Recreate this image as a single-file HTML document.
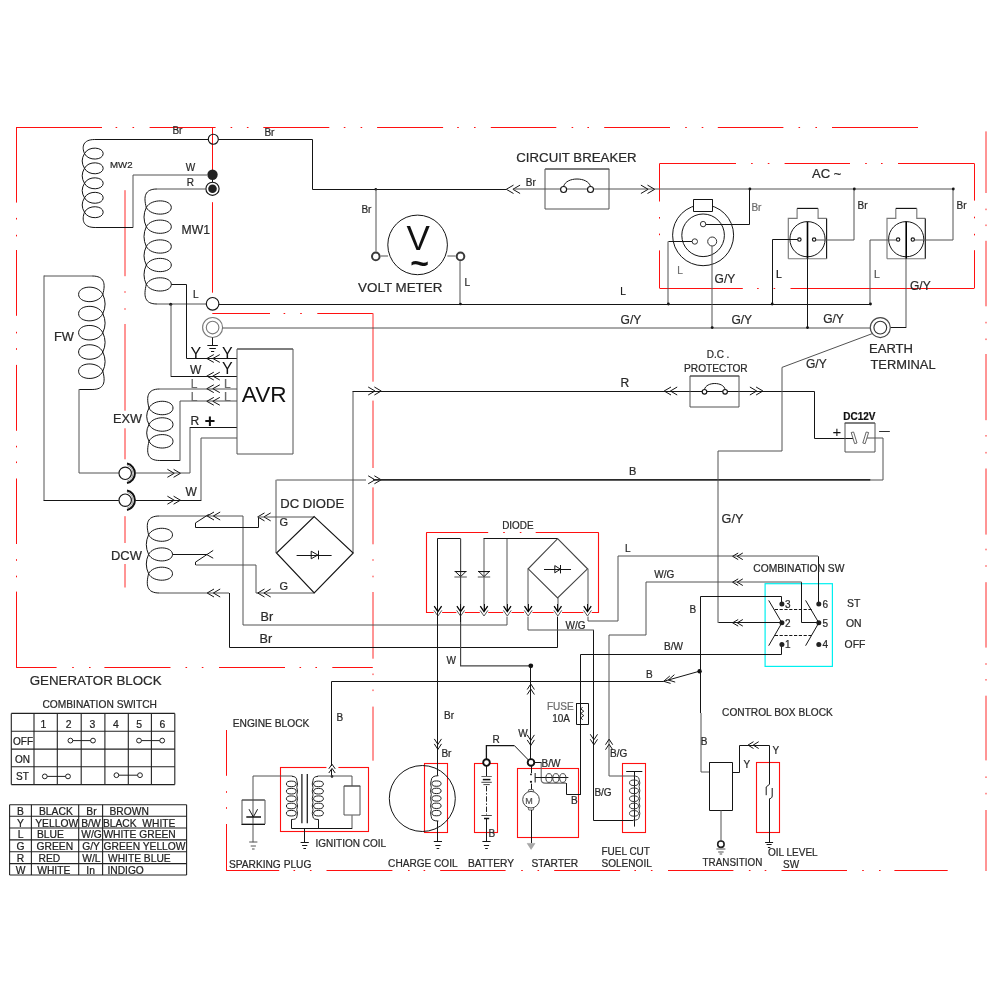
<!DOCTYPE html>
<html lang="en"><head><meta charset="utf-8"><title>Generator wiring diagram</title>
<style>
html,body{margin:0;padding:0;background:#fff}
body{width:994px;height:994px;overflow:hidden}
svg{display:block;will-change:transform}
svg text{font-family:"Liberation Sans",sans-serif}
</style></head><body>
<svg width="994" height="994" viewBox="0 0 994 994" stroke-linecap="butt" stroke-linejoin="miter">
<rect x="0" y="0" width="994" height="994" fill="#fff"/>
<polyline points="16.3,127.5 102,127.5" stroke="#ff1010" stroke-width="1" fill="none" />
<polyline points="149.6,127.5 215.6,127.5" stroke="#ff1010" stroke-width="1" fill="none" />
<polyline points="263.3,127.5 329.3,127.5" stroke="#ff1010" stroke-width="1" fill="none" />
<polyline points="377.1,127.5 443.1,127.5" stroke="#ff1010" stroke-width="1" fill="none" />
<polyline points="490.8,127.5 556.3,127.5" stroke="#ff1010" stroke-width="1" fill="none" />
<polyline points="604.2,127.5 670,127.5" stroke="#ff1010" stroke-width="1" fill="none" />
<polyline points="717.8,127.5 783.4,127.5" stroke="#ff1010" stroke-width="1" fill="none" />
<polyline points="832,127.5 918,127.5" stroke="#ff1010" stroke-width="1" fill="none" />
<polyline points="115.6,127.5 117.2,127.5" stroke="#ff1010" stroke-width="1" fill="none" />
<polyline points="132.5,127.5 134.1,127.5" stroke="#ff1010" stroke-width="1" fill="none" />
<polyline points="230.6,127.5 232.2,127.5" stroke="#ff1010" stroke-width="1" fill="none" />
<polyline points="246.9,127.5 248.5,127.5" stroke="#ff1010" stroke-width="1" fill="none" />
<polyline points="343.8,127.5 345.4,127.5" stroke="#ff1010" stroke-width="1" fill="none" />
<polyline points="360.6,127.5 362.2,127.5" stroke="#ff1010" stroke-width="1" fill="none" />
<polyline points="457.2,127.5 458.8,127.5" stroke="#ff1010" stroke-width="1" fill="none" />
<polyline points="474,127.5 475.6,127.5" stroke="#ff1010" stroke-width="1" fill="none" />
<polyline points="571.6,127.5 573.2,127.5" stroke="#ff1010" stroke-width="1" fill="none" />
<polyline points="587.4,127.5 589,127.5" stroke="#ff1010" stroke-width="1" fill="none" />
<polyline points="685.2,127.5 686.8,127.5" stroke="#ff1010" stroke-width="1" fill="none" />
<polyline points="701.7,127.5 703.3,127.5" stroke="#ff1010" stroke-width="1" fill="none" />
<polyline points="798.5,127.5 800.1,127.5" stroke="#ff1010" stroke-width="1" fill="none" />
<polyline points="815.4,127.5 817,127.5" stroke="#ff1010" stroke-width="1" fill="none" />
<polyline points="16.5,127 16.5,202.6" stroke="#ff1010" stroke-width="1" fill="none" />
<polyline points="16.5,250 16.5,315.8" stroke="#ff1010" stroke-width="1" fill="none" />
<polyline points="16.5,364.9 16.5,430.8" stroke="#ff1010" stroke-width="1" fill="none" />
<polyline points="16.5,478.5 16.5,544" stroke="#ff1010" stroke-width="1" fill="none" />
<polyline points="16.5,591.6 16.5,667.8" stroke="#ff1010" stroke-width="1" fill="none" />
<polyline points="16.5,217.9 16.5,219.5" stroke="#ff1010" stroke-width="1" fill="none" />
<polyline points="16.5,234.8 16.5,236.4" stroke="#ff1010" stroke-width="1" fill="none" />
<polyline points="16.5,331.8 16.5,333.4" stroke="#ff1010" stroke-width="1" fill="none" />
<polyline points="16.5,348.2 16.5,349.8" stroke="#ff1010" stroke-width="1" fill="none" />
<polyline points="16.5,445.8 16.5,447.4" stroke="#ff1010" stroke-width="1" fill="none" />
<polyline points="16.5,461.5 16.5,463.1" stroke="#ff1010" stroke-width="1" fill="none" />
<polyline points="16.5,559.2 16.5,560.8" stroke="#ff1010" stroke-width="1" fill="none" />
<polyline points="16.5,575.7 16.5,577.3" stroke="#ff1010" stroke-width="1" fill="none" />
<polyline points="16.3,667.5 56.6,667.5" stroke="#ff1010" stroke-width="1" fill="none" />
<polyline points="104.4,667.5 170.5,667.5" stroke="#ff1010" stroke-width="1" fill="none" />
<polyline points="219,667.5 285,667.5" stroke="#ff1010" stroke-width="1" fill="none" />
<polyline points="332.3,667.5 372.8,667.5" stroke="#ff1010" stroke-width="1" fill="none" />
<polyline points="72.2,667.5 73.8,667.5" stroke="#ff1010" stroke-width="1" fill="none" />
<polyline points="89,667.5 90.6,667.5" stroke="#ff1010" stroke-width="1" fill="none" />
<polyline points="185.5,667.5 187.1,667.5" stroke="#ff1010" stroke-width="1" fill="none" />
<polyline points="201.8,667.5 203.4,667.5" stroke="#ff1010" stroke-width="1" fill="none" />
<polyline points="299.5,667.5 301.1,667.5" stroke="#ff1010" stroke-width="1" fill="none" />
<polyline points="315.4,667.5 317,667.5" stroke="#ff1010" stroke-width="1" fill="none" />
<polyline points="373,313.3 373,381.7" stroke="#ff2a2a" stroke-width="1" fill="none" />
<polyline points="373,400.6 373,468" stroke="#ff2a2a" stroke-width="1" fill="none" />
<polyline points="373,487.4 373,544.3" stroke="#ff2a2a" stroke-width="1" fill="none" />
<polyline points="373,592 373,658.7" stroke="#ff2a2a" stroke-width="1" fill="none" />
<polyline points="373,706.6 373,760.7" stroke="#ff2a2a" stroke-width="1" fill="none" />
<polyline points="373,559.2 373,560.8" stroke="#ff2a2a" stroke-width="1" fill="none" />
<polyline points="373,575.7 373,577.3" stroke="#ff2a2a" stroke-width="1" fill="none" />
<polyline points="373,673.5 373,675.1" stroke="#ff2a2a" stroke-width="1" fill="none" />
<polyline points="373,689.5 373,691.1" stroke="#ff2a2a" stroke-width="1" fill="none" />
<polyline points="212.3,313.5 270,313.5" stroke="#ff1010" stroke-width="1" fill="none" />
<polyline points="317.3,313.5 372.8,313.5" stroke="#ff1010" stroke-width="1" fill="none" />
<polyline points="283.6,313.5 285.2,313.5" stroke="#ff1010" stroke-width="1" fill="none" />
<polyline points="300.2,313.5 301.8,313.5" stroke="#ff1010" stroke-width="1" fill="none" />
<polyline points="212.5,127 212.5,171" stroke="#ff1010" stroke-width="1" fill="none" />
<polyline points="212.5,202.2 212.5,292.7" stroke="#ff1010" stroke-width="1" fill="none" />
<polyline points="125,190.2 125,276.2" stroke="#ff2a2a" stroke-width="1" fill="none" />
<polyline points="125,324 125,410.7" stroke="#ff2a2a" stroke-width="1" fill="none" />
<polyline points="125,428.3 125,459.3" stroke="#ff2a2a" stroke-width="1" fill="none" />
<polyline points="125,516.2 125,543" stroke="#ff2a2a" stroke-width="1" fill="none" />
<polyline points="125,564 125,587.5" stroke="#ff2a2a" stroke-width="1" fill="none" />
<polyline points="125,291.2 125,292.8" stroke="#ff2a2a" stroke-width="1" fill="none" />
<polyline points="125,308.2 125,309.8" stroke="#ff2a2a" stroke-width="1" fill="none" />
<polyline points="986,131.4 986,193" stroke="#ff2a2a" stroke-width="1" fill="none" />
<polyline points="986,240.8 986,306.3" stroke="#ff2a2a" stroke-width="1" fill="none" />
<polyline points="986,354 986,420.2" stroke="#ff2a2a" stroke-width="1" fill="none" />
<polyline points="986,468.5 986,534.6" stroke="#ff2a2a" stroke-width="1" fill="none" />
<polyline points="986,582.2 986,647.6" stroke="#ff2a2a" stroke-width="1" fill="none" />
<polyline points="986,695.7 986,760.4" stroke="#ff2a2a" stroke-width="1" fill="none" />
<polyline points="986,810 986,871" stroke="#ff2a2a" stroke-width="1" fill="none" />
<polyline points="986,208.6 986,210.2" stroke="#ff2a2a" stroke-width="1" fill="none" />
<polyline points="986,224.5 986,226.1" stroke="#ff2a2a" stroke-width="1" fill="none" />
<polyline points="986,321.8 986,323.4" stroke="#ff2a2a" stroke-width="1" fill="none" />
<polyline points="986,338.5 986,340.1" stroke="#ff2a2a" stroke-width="1" fill="none" />
<polyline points="986,435 986,436.6" stroke="#ff2a2a" stroke-width="1" fill="none" />
<polyline points="986,451.9 986,453.5" stroke="#ff2a2a" stroke-width="1" fill="none" />
<polyline points="986,548.7 986,550.3" stroke="#ff2a2a" stroke-width="1" fill="none" />
<polyline points="986,565.2 986,566.8" stroke="#ff2a2a" stroke-width="1" fill="none" />
<polyline points="986,663.2 986,664.8" stroke="#ff2a2a" stroke-width="1" fill="none" />
<polyline points="986,679 986,680.6" stroke="#ff2a2a" stroke-width="1" fill="none" />
<polyline points="986,776.4 986,778" stroke="#ff2a2a" stroke-width="1" fill="none" />
<polyline points="986,792.8 986,794.4" stroke="#ff2a2a" stroke-width="1" fill="none" />
<polyline points="226.4,870.5 279.2,870.5" stroke="#ff1010" stroke-width="1" fill="none" />
<polyline points="326.5,870.5 392.4,870.5" stroke="#ff1010" stroke-width="1" fill="none" />
<polyline points="440.2,870.5 505.6,870.5" stroke="#ff1010" stroke-width="1" fill="none" />
<polyline points="554.2,870.5 620.1,870.5" stroke="#ff1010" stroke-width="1" fill="none" />
<polyline points="668,870.5 733.4,870.5" stroke="#ff1010" stroke-width="1" fill="none" />
<polyline points="781.5,870.5 847,870.5" stroke="#ff1010" stroke-width="1" fill="none" />
<polyline points="894.4,870.5 947.7,870.5" stroke="#ff1010" stroke-width="1" fill="none" />
<polyline points="293.5,870.5 295.1,870.5" stroke="#ff1010" stroke-width="1" fill="none" />
<polyline points="309.9,870.5 311.5,870.5" stroke="#ff1010" stroke-width="1" fill="none" />
<polyline points="408,870.5 409.6,870.5" stroke="#ff1010" stroke-width="1" fill="none" />
<polyline points="423.6,870.5 425.2,870.5" stroke="#ff1010" stroke-width="1" fill="none" />
<polyline points="521.2,870.5 522.8,870.5" stroke="#ff1010" stroke-width="1" fill="none" />
<polyline points="537.5,870.5 539.1,870.5" stroke="#ff1010" stroke-width="1" fill="none" />
<polyline points="634.4,870.5 636,870.5" stroke="#ff1010" stroke-width="1" fill="none" />
<polyline points="650.9,870.5 652.5,870.5" stroke="#ff1010" stroke-width="1" fill="none" />
<polyline points="748.9,870.5 750.5,870.5" stroke="#ff1010" stroke-width="1" fill="none" />
<polyline points="764.7,870.5 766.3,870.5" stroke="#ff1010" stroke-width="1" fill="none" />
<polyline points="862.2,870.5 863.8,870.5" stroke="#ff1010" stroke-width="1" fill="none" />
<polyline points="879,870.5 880.6,870.5" stroke="#ff1010" stroke-width="1" fill="none" />
<polyline points="226.5,730 226.5,775.8" stroke="#ff1010" stroke-width="1" fill="none" />
<polyline points="226.5,824 226.5,870.8" stroke="#ff1010" stroke-width="1" fill="none" />
<polyline points="226.5,791.2 226.5,792.8" stroke="#ff1010" stroke-width="1" fill="none" />
<polyline points="226.5,807.2 226.5,808.8" stroke="#ff1010" stroke-width="1" fill="none" />
<polyline points="659.8,163.5 736,163.5" stroke="#ff1010" stroke-width="1" fill="none" />
<polyline points="784.6,163.5 850,163.5" stroke="#ff1010" stroke-width="1" fill="none" />
<polyline points="898,163.5 974.1,163.5" stroke="#ff1010" stroke-width="1" fill="none" />
<polyline points="751.1,163.5 752.7,163.5" stroke="#ff1010" stroke-width="1" fill="none" />
<polyline points="767.8,163.5 769.4,163.5" stroke="#ff1010" stroke-width="1" fill="none" />
<polyline points="865.2,163.5 866.8,163.5" stroke="#ff1010" stroke-width="1" fill="none" />
<polyline points="881,163.5 882.6,163.5" stroke="#ff1010" stroke-width="1" fill="none" />
<polyline points="974.5,163.4 974.5,200.6" stroke="#ff1010" stroke-width="1" fill="none" />
<polyline points="974.5,250.2 974.5,288.4" stroke="#ff1010" stroke-width="1" fill="none" />
<polyline points="974.5,216.7 974.5,218.3" stroke="#ff1010" stroke-width="1" fill="none" />
<polyline points="974.5,233.8 974.5,235.4" stroke="#ff1010" stroke-width="1" fill="none" />
<polyline points="659.8,288.5 742.8,288.5" stroke="#ff1010" stroke-width="1" fill="none" />
<polyline points="790.5,288.5 974.1,288.5" stroke="#ff1010" stroke-width="1" fill="none" />
<polyline points="757.1,288.5 758.7,288.5" stroke="#ff1010" stroke-width="1" fill="none" />
<polyline points="773.6,288.5 775.2,288.5" stroke="#ff1010" stroke-width="1" fill="none" />
<polyline points="659.5,163.4 659.5,201.5" stroke="#ff1010" stroke-width="1" fill="none" />
<polyline points="659.5,250.4 659.5,288.4" stroke="#ff1010" stroke-width="1" fill="none" />
<polyline points="659.5,217 659.5,218.6" stroke="#ff1010" stroke-width="1" fill="none" />
<polyline points="659.5,233.6 659.5,235.2" stroke="#ff1010" stroke-width="1" fill="none" />
<polyline points="426.3,532.5 488.2,532.5" stroke="#ff1010" stroke-width="1" fill="none" />
<polyline points="535.7,532.5 598.7,532.5" stroke="#ff1010" stroke-width="1" fill="none" />
<polyline points="503.2,532.5 504.8,532.5" stroke="#ff1010" stroke-width="1" fill="none" />
<polyline points="519.8,532.5 521.4,532.5" stroke="#ff1010" stroke-width="1" fill="none" />
<polyline points="426.5,532.5 426.5,612.5 598.5,612.5 598.5,532.5" stroke="#ff1010" stroke-width="1.1" fill="none" />
<rect x="280.5" y="767.5" width="88" height="64" stroke="#ff1010" stroke-width="1.1" fill="none"/>
<rect x="424.5" y="763.5" width="23" height="69" stroke="#ff1010" stroke-width="1.1" fill="none"/>
<rect x="474.5" y="763.5" width="23" height="69" stroke="#ff1010" stroke-width="1.1" fill="none"/>
<rect x="517.5" y="768.5" width="61" height="69" stroke="#ff1010" stroke-width="1.1" fill="none"/>
<rect x="622.5" y="763.5" width="23" height="69" stroke="#ff1010" stroke-width="1.1" fill="none"/>
<rect x="756.5" y="762.5" width="23" height="70" stroke="#ff1010" stroke-width="1.1" fill="none"/>
<rect x="765.1" y="583.7" width="67.3" height="82.7" stroke="#00f0f0" stroke-width="1.2" fill="none"/>
<path d="M84.5,153.6 C88.24,145.8 103.2,146.84 103.2,153.6 C103.2,160.36 88.24,161.4 84.5,153.6" stroke="#151515" stroke-width="1" fill="none" />
<path d="M84.5,168.3 C88.24,160.5 103.2,161.54 103.2,168.3 C103.2,175.06 88.24,176.1 84.5,168.3" stroke="#151515" stroke-width="1" fill="none" />
<path d="M84.5,183.3 C88.24,175.5 103.2,176.54 103.2,183.3 C103.2,190.06 88.24,191.1 84.5,183.3" stroke="#151515" stroke-width="1" fill="none" />
<path d="M84.5,197.8 C88.24,190 103.2,191.04 103.2,197.8 C103.2,204.56 88.24,205.6 84.5,197.8" stroke="#151515" stroke-width="1" fill="none" />
<path d="M84.5,212.2 C88.24,204.4 103.2,205.44 103.2,212.2 C103.2,218.96 88.24,220 84.5,212.2" stroke="#151515" stroke-width="1" fill="none" />
<polyline points="208.3,139.5 94.78,139.5" stroke="#151515" stroke-width="1" fill="none" />
<polyline points="95.2,227.5 133.2,227.5" stroke="#151515" stroke-width="1" fill="none" />
<path d="M94.78,139.5 C82.8,139.5 81.6,146.9 84.5,153.6 Q79.9,160.95 84.5,168.3 Q79.9,175.8 84.5,183.3 Q79.9,190.55 84.5,197.8 Q79.9,205 84.5,212.2 C81.6,219.8 82.8,227.5 95.2,227.5" stroke="#151515" stroke-width="1" fill="none" />
<polyline points="133,227.2 133,175 207,175" stroke="#525252" stroke-width="1" fill="none" />
<circle cx="213.3" cy="139.2" r="5" stroke="#151515" stroke-width="1.15" fill="none"/>
<polyline points="218.3,139.5 312.5,139.5 312.5,189.5 506.3,189.5" stroke="#151515" stroke-width="1" fill="none" />
<polyline points="212.5,174.8 212.5,188.8" stroke="#151515" stroke-width="1" fill="none" />
<circle cx="212.5" cy="174.8" r="5.2" fill="#222"/>
<circle cx="212.5" cy="188.8" r="6.6" stroke="#151515" stroke-width="1.15" fill="#fff"/>
<circle cx="212.5" cy="188.8" r="4.3" fill="#222"/>
<path d="M146.3,207.5 C151.3,198.05 171.3,199.31 171.3,207.5 C171.3,215.69 151.3,216.95 146.3,207.5" stroke="#151515" stroke-width="1" fill="none" />
<path d="M146.3,226.7 C151.3,217.25 171.3,218.51 171.3,226.7 C171.3,234.89 151.3,236.15 146.3,226.7" stroke="#151515" stroke-width="1" fill="none" />
<path d="M146.3,246.5 C151.3,237.05 171.3,238.31 171.3,246.5 C171.3,254.69 151.3,255.95 146.3,246.5" stroke="#151515" stroke-width="1" fill="none" />
<path d="M146.3,265 C151.3,255.55 171.3,256.81 171.3,265 C171.3,273.19 151.3,274.45 146.3,265" stroke="#151515" stroke-width="1" fill="none" />
<path d="M146.3,284.4 C151.3,274.95 171.3,276.21 171.3,284.4 C171.3,292.59 151.3,293.85 146.3,284.4" stroke="#151515" stroke-width="1" fill="none" />
<polyline points="206,189 157,189" stroke="#525252" stroke-width="1" fill="none" />
<polyline points="157,304 206.3,304" stroke="#525252" stroke-width="1" fill="none" />
<path d="M157,189 C144.6,189 143.4,196.7 146.3,207.5 Q141.7,217.1 146.3,226.7 Q141.7,236.6 146.3,246.5 Q141.7,255.75 146.3,265 Q141.7,274.7 146.3,284.4 C143.4,296.3 144.6,304 157,304" stroke="#151515" stroke-width="1" fill="none" />
<circle cx="212.6" cy="303.8" r="6.3" stroke="#151515" stroke-width="1.15" fill="#fff"/>
<polyline points="171.3,284.5 186.5,284.5 186.5,358.5 237,358.5" stroke="#151515" stroke-width="1" fill="none" />
<circle cx="170.7" cy="304.2" r="1.5" fill="#151515"/>
<polyline points="171,304.2 171,376.1" stroke="#525252" stroke-width="1" fill="none" />
<polyline points="170.7,376.5 237,376.5" stroke="#151515" stroke-width="1" fill="none" />
<polyline points="218.9,304.5 870.5,304.5" stroke="#151515" stroke-width="1" fill="none" />
<circle cx="212.6" cy="327.5" r="10" stroke="#7a7a7a" stroke-width="1.15" fill="#fff"/>
<circle cx="212.6" cy="327.5" r="6.3" stroke="#7a7a7a" stroke-width="1.15" fill="#fff"/>
<polyline points="222.6,328 870.3,328" stroke="#525252" stroke-width="1" fill="none" />
<polyline points="212.5,337.5 212.5,345" stroke="#151515" stroke-width="1" fill="none" />
<polyline points="207.35,345.5 217.85,345.5" stroke="#151515" stroke-width="1" fill="none" />
<polyline points="209.35,348.5 215.85,348.5" stroke="#151515" stroke-width="1" fill="none" />
<polyline points="211,351.5 214.2,351.5" stroke="#151515" stroke-width="1" fill="none" />
<path d="M102.8,294.4 C97.96,284.05 78.6,285.43 78.6,294.4 C78.6,303.37 97.96,304.75 102.8,294.4" stroke="#151515" stroke-width="1" fill="none" />
<path d="M102.8,313.6 C97.96,303.25 78.6,304.63 78.6,313.6 C78.6,322.57 97.96,323.95 102.8,313.6" stroke="#151515" stroke-width="1" fill="none" />
<path d="M102.8,332.7 C97.96,322.35 78.6,323.73 78.6,332.7 C78.6,341.67 97.96,343.05 102.8,332.7" stroke="#151515" stroke-width="1" fill="none" />
<path d="M102.8,352 C97.96,341.65 78.6,343.03 78.6,352 C78.6,360.97 97.96,362.35 102.8,352" stroke="#151515" stroke-width="1" fill="none" />
<path d="M102.8,371.2 C97.96,360.85 78.6,362.23 78.6,371.2 C78.6,380.17 97.96,381.55 102.8,371.2" stroke="#151515" stroke-width="1" fill="none" />
<polyline points="44,276 92.1,276" stroke="#525252" stroke-width="1" fill="none" />
<polyline points="92.1,389.5 79.2,389.5" stroke="#151515" stroke-width="1" fill="none" />
<path d="M92.1,276 C104.5,276 105.7,283.7 102.8,294.4 Q107.4,304 102.8,313.6 Q107.4,323.15 102.8,332.7 Q107.4,342.35 102.8,352 Q107.4,361.6 102.8,371.2 C105.7,381.8 104.5,389.5 92.1,389.5" stroke="#151515" stroke-width="1" fill="none" />
<polyline points="44,275.5 44,500.2" stroke="#525252" stroke-width="1" fill="none" />
<polyline points="43.5,500.5 118.8,500.5" stroke="#151515" stroke-width="1" fill="none" />
<polyline points="79,389.3 79,473 118.8,473" stroke="#525252" stroke-width="1" fill="none" />
<circle cx="125.2" cy="473.3" r="6.2" stroke="#151515" stroke-width="1.15" fill="#fff"/>
<path d="M127,463.6 A9.9,9.9 0 0 1 127,483" stroke="#111" stroke-width="2" fill="none" />
<path d="M127.2,465.5 A8.2,8.2 0 0 1 127.2,481.1" stroke="#999" stroke-width="1" fill="none" />
<circle cx="125.2" cy="500.2" r="6.2" stroke="#151515" stroke-width="1.15" fill="#fff"/>
<path d="M127,490.5 A9.9,9.9 0 0 1 127,509.9" stroke="#111" stroke-width="2" fill="none" />
<path d="M127.2,492.4 A8.2,8.2 0 0 1 127.2,508" stroke="#999" stroke-width="1" fill="none" />
<polyline points="135.5,473 190,473 190,427" stroke="#525252" stroke-width="1" fill="none" />
<polyline points="190,427.5 237,427.5" stroke="#151515" stroke-width="1" fill="none" />
<polyline points="173.6,469.3 180.4,473.3 173.6,477.3" stroke="#151515" stroke-width="1" fill="none" />
<polyline points="167.4,469.3 174.2,473.3 167.4,477.3" stroke="#151515" stroke-width="1" fill="none" />
<polyline points="135.5,500.5 201.4,500.5" stroke="#151515" stroke-width="1" fill="none" />
<polyline points="201,500.2 201,438 237,438" stroke="#525252" stroke-width="1" fill="none" />
<polyline points="173.6,496.2 180.4,500.2 173.6,504.2" stroke="#151515" stroke-width="1" fill="none" />
<polyline points="167.4,496.2 174.2,500.2 167.4,504.2" stroke="#151515" stroke-width="1" fill="none" />
<path d="M149,408 C153.8,398.4 173,399.68 173,408 C173,416.32 153.8,417.6 149,408" stroke="#151515" stroke-width="1" fill="none" />
<path d="M149,424.5 C153.8,414.9 173,416.18 173,424.5 C173,432.82 153.8,434.1 149,424.5" stroke="#151515" stroke-width="1" fill="none" />
<path d="M149,441.3 C153.8,431.7 173,432.98 173,441.3 C173,449.62 153.8,450.9 149,441.3" stroke="#151515" stroke-width="1" fill="none" />
<polyline points="237,389 159.7,389" stroke="#525252" stroke-width="1" fill="none" />
<polyline points="159.7,460.5 180.2,460.5" stroke="#151515" stroke-width="1" fill="none" />
<path d="M159.7,389 C147.3,389 146.1,396.7 149,408 Q144.4,416.25 149,424.5 Q144.4,432.9 149,441.3 C146.1,452.8 147.3,460.5 159.7,460.5" stroke="#151515" stroke-width="1" fill="none" />
<polyline points="180,460.4 180,401 237,401" stroke="#525252" stroke-width="1" fill="none" />
<polyline points="237.2,349 293,349 293,454 237,454 237,349 292.9,349" stroke="#525252" stroke-width="1" fill="none" />
<polyline points="213.8,354.6 206.8,358.5 213.8,362.4" stroke="#151515" stroke-width="1" fill="none" />
<polyline points="219.8,354.6 212.8,358.5 219.8,362.4" stroke="#151515" stroke-width="1" fill="none" />
<polyline points="213.8,372.2 206.8,376.1 213.8,380" stroke="#151515" stroke-width="1" fill="none" />
<polyline points="219.8,372.2 212.8,376.1 219.8,380" stroke="#151515" stroke-width="1" fill="none" />
<polyline points="213.8,384.8 206.8,388.7 213.8,392.6" stroke="#151515" stroke-width="1" fill="none" />
<polyline points="219.8,384.8 212.8,388.7 219.8,392.6" stroke="#151515" stroke-width="1" fill="none" />
<polyline points="213.8,397.4 206.8,401.3 213.8,405.2" stroke="#151515" stroke-width="1" fill="none" />
<polyline points="219.8,397.4 212.8,401.3 219.8,405.2" stroke="#151515" stroke-width="1" fill="none" />
<path d="M148.6,534.8 C153.38,525.5 172.5,526.74 172.5,534.8 C172.5,542.86 153.38,544.1 148.6,534.8" stroke="#151515" stroke-width="1" fill="none" />
<path d="M148.6,554.4 C153.38,545.1 172.5,546.34 172.5,554.4 C172.5,562.46 153.38,563.7 148.6,554.4" stroke="#151515" stroke-width="1" fill="none" />
<path d="M148.6,573.7 C153.38,564.4 172.5,565.64 172.5,573.7 C172.5,581.76 153.38,583 148.6,573.7" stroke="#151515" stroke-width="1" fill="none" />
<polyline points="243,516 159.3,516" stroke="#525252" stroke-width="1" fill="none" />
<polyline points="159.3,593 229,593" stroke="#525252" stroke-width="1" fill="none" />
<path d="M159.3,516 C146.9,516 145.7,523.7 148.6,534.8 Q144,544.6 148.6,554.4 Q144,564.05 148.6,573.7 C145.7,585.3 146.9,593 159.3,593" stroke="#151515" stroke-width="1" fill="none" />
<polyline points="243,516 243,625 507,625 507,538.7" stroke="#525252" stroke-width="1" fill="none" />
<polyline points="214,512 207.2,516 214,520" stroke="#151515" stroke-width="1" fill="none" />
<polyline points="220.2,512 213.4,516 220.2,520" stroke="#151515" stroke-width="1" fill="none" />
<polyline points="258.5,517 258.5,527.5 195.5,527.5 195.5,522.9 208.7,514.4" stroke="#151515" stroke-width="1" fill="none" />
<polyline points="172.6,554.5 207,554.5" stroke="#151515" stroke-width="1" fill="none" />
<polyline points="195.5,565 195.5,562.1 213.2,550.4" stroke="#151515" stroke-width="1" fill="none" />
<polyline points="206.4,554.4 213.2,558.2" stroke="#151515" stroke-width="1" fill="none" />
<polyline points="195.8,565 256,565 256,593 314.2,593" stroke="#525252" stroke-width="1" fill="none" />
<polyline points="229.5,593 229.5,647.5 557.5,647.5 557.5,612" stroke="#151515" stroke-width="1" fill="none" />
<polyline points="214,589 207.2,593 214,597" stroke="#151515" stroke-width="1" fill="none" />
<polyline points="220.2,589 213.4,593 220.2,597" stroke="#151515" stroke-width="1" fill="none" />
<polyline points="264.5,512.9 257.7,516.9 264.5,520.9" stroke="#151515" stroke-width="1" fill="none" />
<polyline points="270.7,512.9 263.9,516.9 270.7,520.9" stroke="#151515" stroke-width="1" fill="none" />
<polyline points="264.5,589 257.7,593 264.5,597" stroke="#151515" stroke-width="1" fill="none" />
<polyline points="270.7,589 263.9,593 270.7,597" stroke="#151515" stroke-width="1" fill="none" />
<polyline points="258,517 314.2,517" stroke="#525252" stroke-width="1" fill="none" />
<polyline points="276,553 276,479.8" stroke="#525252" stroke-width="1" fill="none" />
<polyline points="276.5,480 366,480" stroke="#525252" stroke-width="1" fill="none" />
<polyline points="353,553 353,391" stroke="#525252" stroke-width="1" fill="none" />
<polyline points="352.7,391.5 375,391.5" stroke="#151515" stroke-width="1" fill="none" />
<path d="M314.2,516.6 L353.2,553 L314.2,592.8 L276.5,553 Z" stroke="#151515" stroke-width="1.15" fill="none" />
<polyline points="296.6,555.5 331.6,555.5" stroke="#151515" stroke-width="1" fill="none" />
<path d="M311.2,551.2 L311.2,558.8 L317.8,555 Z" stroke="#151515" stroke-width="1" fill="none" />
<polyline points="318.5,550.6 318.5,559.4" stroke="#151515" stroke-width="1" fill="none" />
<polyline points="374.4,387 381.2,391 374.4,395" stroke="#151515" stroke-width="1" fill="none" />
<polyline points="368.2,387 375,391 368.2,395" stroke="#151515" stroke-width="1" fill="none" />
<polyline points="374.4,475.8 381.2,479.8 374.4,483.8" stroke="#151515" stroke-width="1" fill="none" />
<polyline points="368.2,475.8 375,479.8 368.2,483.8" stroke="#151515" stroke-width="1" fill="none" />
<polyline points="373,391.5 814.5,391.5 814.5,438.5 853,438.5" stroke="#151515" stroke-width="1" fill="none" />
<polyline points="671,387 664.2,391 671,395" stroke="#151515" stroke-width="1" fill="none" />
<polyline points="677.2,387 670.4,391 677.2,395" stroke="#151515" stroke-width="1" fill="none" />
<polyline points="689.9,376 739,376 739,407 690,407 690,376 739.4,376" stroke="#525252" stroke-width="1" fill="none" />
<circle cx="704.5" cy="391.8" r="2.3" stroke="#151515" stroke-width="1.15" fill="#fff"/>
<circle cx="725.1" cy="391.8" r="2.3" stroke="#151515" stroke-width="1.15" fill="#fff"/>
<path d="M704.5,389.5 C706,381.5 723.6,381.5 725.1,389.5" stroke="#151515" stroke-width="1" fill="none" />
<polyline points="756.1,387 762.9,391 756.1,395" stroke="#151515" stroke-width="1" fill="none" />
<polyline points="749.9,387 756.7,391 749.9,395" stroke="#151515" stroke-width="1" fill="none" />
<polyline points="373,479.9 870.5,479.9" stroke="#2a2a2a" stroke-width="1.6" fill="none" />
<polyline points="870.5,480 883,480 883,438 866.5,438" stroke="#525252" stroke-width="1" fill="none" />
<polyline points="844.6,423 875,423 875,452 845,452 845,423 874.8,423" stroke="#525252" stroke-width="1" fill="none" />
<path d="M851.2,432.5 L853.6,432 L857,443 L854.6,443.6 Z" stroke="#555" stroke-width="0.9" fill="#fff" />
<path d="M866.2,432 L868.6,432.5 L865.2,443.6 L862.8,443 Z" stroke="#555" stroke-width="0.9" fill="#fff" />
<circle cx="375.8" cy="189.3" r="1.3" fill="#151515"/>
<polyline points="376,189.3 376,251.5" stroke="#525252" stroke-width="1" fill="none" />
<polyline points="380.8,256 388,256" stroke="#525252" stroke-width="1" fill="none" />
<polyline points="447.4,256 455.5,256" stroke="#525252" stroke-width="1" fill="none" />
<circle cx="417.6" cy="244.9" r="29.8" stroke="#151515" stroke-width="1" fill="#fff"/>
<circle cx="375.8" cy="256.4" r="3.8" stroke="#3a3a3a" stroke-width="2" fill="#fff"/>
<circle cx="460.5" cy="256.4" r="3.8" stroke="#3a3a3a" stroke-width="2" fill="#fff"/>
<polyline points="460,261.2 460,304" stroke="#525252" stroke-width="1" fill="none" />
<circle cx="460.5" cy="304" r="1.3" fill="#151515"/>
<polyline points="513.5,185.1 506.3,189.3 513.5,193.5" stroke="#151515" stroke-width="1" fill="none" />
<polyline points="520.1,185.1 512.9,189.3 520.1,193.5" stroke="#151515" stroke-width="1" fill="none" />
<polyline points="513,189 654.7,189" stroke="#525252" stroke-width="1" fill="none" />
<polyline points="545.3,169 609,169 609,209 545,209 545,169 609.4,169" stroke="#525252" stroke-width="1" fill="none" />
<circle cx="563.6" cy="189.5" r="3" stroke="#151515" stroke-width="1.15" fill="#fff"/>
<circle cx="590.5" cy="189.5" r="3" stroke="#151515" stroke-width="1.15" fill="#fff"/>
<path d="M563.6,186.5 C566,176.5 588,176.5 590.5,186.5" stroke="#151515" stroke-width="1" fill="none" />
<polyline points="647.5,185.1 654.7,189.3 647.5,193.5" stroke="#151515" stroke-width="1" fill="none" />
<polyline points="640.9,185.1 648.1,189.3 640.9,193.5" stroke="#151515" stroke-width="1" fill="none" />
<polyline points="654.7,189 953.3,189" stroke="#525252" stroke-width="1" fill="none" />
<circle cx="749.9" cy="189" r="1.4" fill="#151515"/>
<polyline points="749.5,189 749.5,224.5 705.8,224.5" stroke="#151515" stroke-width="1" fill="none" />
<circle cx="703.1" cy="235.2" r="30.5" stroke="#151515" stroke-width="1" fill="none"/>
<circle cx="703.1" cy="235.3" r="21.3" stroke="#151515" stroke-width="1" fill="none"/>
<rect x="693.8" y="199.2" width="18.8" height="12.1" fill="#fff"/>
<polyline points="693.8,199.5 712.5,199.5 712.5,211.5 693.5,211.5 693.5,199.5 712.6,199.5" stroke="#151515" stroke-width="1" fill="none" />
<circle cx="703.1" cy="224.1" r="2.7" stroke="#333" stroke-width="1" fill="#fff"/>
<circle cx="694.8" cy="241.5" r="2.7" stroke="#333" stroke-width="1" fill="#fff"/>
<circle cx="712.2" cy="241.5" r="4.5" stroke="#333" stroke-width="1" fill="#fff"/>
<polyline points="692.1,241.5 668.4,241.5" stroke="#151515" stroke-width="1" fill="none" />
<polyline points="668,241.5 668,304" stroke="#525252" stroke-width="1" fill="none" />
<circle cx="668.4" cy="304" r="1.4" fill="#151515"/>
<polyline points="712,246 712,327.6" stroke="#525252" stroke-width="1" fill="none" />
<circle cx="712.2" cy="327.6" r="1.4" fill="#151515"/>
<path d="M788.3,258.7 L788.3,218.4 L797.1,218.4 L797.1,208.4" stroke="#7a7a7a" stroke-width="1.15" fill="none" />
<path d="M797.1,208.4 L818.1,208.4" stroke="#151515" stroke-width="1.15" fill="none" />
<path d="M818.1,208.4 L818.1,218.4 L826.6,218.4" stroke="#7a7a7a" stroke-width="1.15" fill="none" />
<path d="M826.6,218.4 L826.6,258.7" stroke="#151515" stroke-width="1.15" fill="none" />
<path d="M826.6,258.7 L788.3,258.7" stroke="#7a7a7a" stroke-width="1.15" fill="none" />
<circle cx="807.5" cy="239.2" r="17.6" stroke="#151515" stroke-width="1" fill="none"/>
<polyline points="807.5,221.6 807.5,258.7" stroke="#000" stroke-width="1.6" fill="none" />
<polyline points="807.5,258.7 807.5,327.6" stroke="#151515" stroke-width="1" fill="none" />
<circle cx="799.4" cy="239.5" r="1.7" stroke="#151515" stroke-width="1.15" fill="#fff"/>
<circle cx="814.1" cy="239.5" r="1.7" stroke="#151515" stroke-width="1.15" fill="#fff"/>
<polyline points="797.7,239.5 772.5,239.5 772.5,304" stroke="#151515" stroke-width="1" fill="none" />
<circle cx="772.2" cy="304" r="1.4" fill="#151515"/>
<polyline points="815.8,240 854,240 854,189" stroke="#525252" stroke-width="1" fill="none" />
<circle cx="854.3" cy="189" r="1.4" fill="#151515"/>
<circle cx="807.5" cy="327.6" r="1.4" fill="#151515"/>
<path d="M887,258.7 L887,218.4 L895.8,218.4 L895.8,208.4" stroke="#7a7a7a" stroke-width="1.15" fill="none" />
<path d="M895.8,208.4 L916.8,208.4" stroke="#151515" stroke-width="1.15" fill="none" />
<path d="M916.8,208.4 L916.8,218.4 L925.3,218.4" stroke="#7a7a7a" stroke-width="1.15" fill="none" />
<path d="M925.3,218.4 L925.3,258.7" stroke="#151515" stroke-width="1.15" fill="none" />
<path d="M925.3,258.7 L887,258.7" stroke="#7a7a7a" stroke-width="1.15" fill="none" />
<circle cx="906.2" cy="239.2" r="17.6" stroke="#151515" stroke-width="1" fill="none"/>
<polyline points="906.2,221.6 906.2,258.7" stroke="#000" stroke-width="1.6" fill="none" />
<polyline points="906,258.7 906,327.6" stroke="#525252" stroke-width="1" fill="none" />
<circle cx="898.1" cy="239.5" r="1.7" stroke="#151515" stroke-width="1.15" fill="#fff"/>
<circle cx="912.8" cy="239.5" r="1.7" stroke="#151515" stroke-width="1.15" fill="#fff"/>
<polyline points="896.4,240 870,240 870,304" stroke="#525252" stroke-width="1" fill="none" />
<circle cx="870.5" cy="304" r="1.4" fill="#151515"/>
<polyline points="914.5,240 953,240 953,189" stroke="#525252" stroke-width="1" fill="none" />
<circle cx="953.3" cy="189" r="1.4" fill="#151515"/>
<polyline points="906.2,327.5 890.3,327.5" stroke="#151515" stroke-width="1" fill="none" />
<circle cx="880.3" cy="327.6" r="10" stroke="#4a4a4a" stroke-width="1.15" fill="#fff"/>
<circle cx="880.3" cy="327.6" r="6.4" stroke="#333" stroke-width="1.15" fill="#fff"/>
<polyline points="872.3,333.6 782,367.4 782,451 718,451 718,622.8" stroke="#525252" stroke-width="1" fill="none" />
<polyline points="437.5,775 437.5,538.5 460.6,538.5" stroke="#151515" stroke-width="1" fill="none" />
<polyline points="460.6,538.7 460.6,665.8 530.8,665.8" stroke="#444" stroke-width="1.15" fill="none" />
<polyline points="484,612 484,538.7" stroke="#525252" stroke-width="1" fill="none" />
<polyline points="483.5,538.5 557.6,538.5" stroke="#151515" stroke-width="1" fill="none" />
<path d="M557.6,538.7 L587.5,568.8 L557.6,598 L528.2,568.8 Z" stroke="#444" stroke-width="1.15" fill="none" />
<polyline points="528,568.8 528,630 593.9,630" stroke="#525252" stroke-width="1" fill="none" />
<polyline points="593.5,630.2 593.5,820.5 633,820.5" stroke="#151515" stroke-width="1" fill="none" />
<polyline points="558,598 558,612" stroke="#525252" stroke-width="1" fill="none" />
<polyline points="588,568.8 588,621 618,621 618,556 818,556" stroke="#525252" stroke-width="1" fill="none" />
<polyline points="544,569.5 571,569.5" stroke="#151515" stroke-width="1" fill="none" />
<path d="M554.8,565.6 L554.8,572.8 L560.4,569.2 Z" stroke="#151515" stroke-width="1" fill="none" />
<polyline points="560.5,565 560.5,573.4" stroke="#151515" stroke-width="1" fill="none" />
<polyline points="454.6,571.5 466.6,571.5" stroke="#151515" stroke-width="1" fill="none" />
<path d="M455.4,571.6 L465.8,571.6 L460.6,576.6 Z" stroke="#151515" stroke-width="1" fill="none" />
<polyline points="454.4,577 466.8,577" stroke="#525252" stroke-width="1" fill="none" />
<polyline points="478,571.5 490,571.5" stroke="#151515" stroke-width="1" fill="none" />
<path d="M478.8,571.6 L489.2,571.6 L484,576.6 Z" stroke="#151515" stroke-width="1" fill="none" />
<polyline points="477.8,577 490.2,577" stroke="#525252" stroke-width="1" fill="none" />
<rect x="433.7" y="610" width="8.4" height="6.6" fill="#fff"/>
<polyline points="437.5,604 437.5,611" stroke="#151515" stroke-width="1" fill="none" />
<polyline points="434.2,606.2 437.9,611.6 441.6,606.2" stroke="#000" stroke-width="1.25" fill="none" />
<polyline points="434,610.4 437.9,616 441.8,610.4" stroke="#555" stroke-width="1" fill="none" />
<rect x="456.4" y="610" width="8.4" height="6.6" fill="#fff"/>
<polyline points="460.5,604 460.5,611" stroke="#151515" stroke-width="1" fill="none" />
<polyline points="456.9,606.2 460.6,611.6 464.3,606.2" stroke="#000" stroke-width="1.25" fill="none" />
<polyline points="456.7,610.4 460.6,616 464.5,610.4" stroke="#555" stroke-width="1" fill="none" />
<rect x="479.8" y="610" width="8.4" height="6.6" fill="#fff"/>
<polyline points="484.5,604 484.5,611" stroke="#151515" stroke-width="1" fill="none" />
<polyline points="480.3,606.2 484,611.6 487.7,606.2" stroke="#000" stroke-width="1.25" fill="none" />
<polyline points="480.1,610.4 484,616 487.9,610.4" stroke="#555" stroke-width="1" fill="none" />
<rect x="503.1" y="610" width="8.4" height="6.6" fill="#fff"/>
<polyline points="507.5,604 507.5,611" stroke="#151515" stroke-width="1" fill="none" />
<polyline points="503.6,606.2 507.3,611.6 511,606.2" stroke="#000" stroke-width="1.25" fill="none" />
<polyline points="503.4,610.4 507.3,616 511.2,610.4" stroke="#555" stroke-width="1" fill="none" />
<rect x="524" y="610" width="8.4" height="6.6" fill="#fff"/>
<polyline points="528.5,604 528.5,611" stroke="#151515" stroke-width="1" fill="none" />
<polyline points="524.5,606.2 528.2,611.6 531.9,606.2" stroke="#000" stroke-width="1.25" fill="none" />
<polyline points="524.3,610.4 528.2,616 532.1,610.4" stroke="#555" stroke-width="1" fill="none" />
<rect x="553.6" y="610" width="8.4" height="6.6" fill="#fff"/>
<polyline points="557.5,604 557.5,611" stroke="#151515" stroke-width="1" fill="none" />
<polyline points="554.1,606.2 557.8,611.6 561.5,606.2" stroke="#000" stroke-width="1.25" fill="none" />
<polyline points="553.9,610.4 557.8,616 561.7,610.4" stroke="#555" stroke-width="1" fill="none" />
<rect x="583.3" y="610" width="8.4" height="6.6" fill="#fff"/>
<polyline points="587.5,604 587.5,611" stroke="#151515" stroke-width="1" fill="none" />
<polyline points="583.8,606.2 587.5,611.6 591.2,606.2" stroke="#000" stroke-width="1.25" fill="none" />
<polyline points="583.6,610.4 587.5,616 591.4,610.4" stroke="#555" stroke-width="1" fill="none" />
<polyline points="437.5,611 437.5,622" stroke="#151515" stroke-width="1" fill="none" />
<polyline points="460.5,611 460.5,622" stroke="#151515" stroke-width="1" fill="none" />
<polyline points="609,776 609,635 646,635 646,582 801.6,582" stroke="#525252" stroke-width="1" fill="none" />
<polyline points="801.5,582.2 801.5,622.5 818.8,622.5" stroke="#151515" stroke-width="1" fill="none" />
<polyline points="609.1,776 633,776" stroke="#525252" stroke-width="1" fill="none" />
<polyline points="818.5,556.3 818.5,604" stroke="#151515" stroke-width="1" fill="none" />
<polyline points="738.2,553 732.6,556.3 738.2,559.6" stroke="#151515" stroke-width="1" fill="none" />
<polyline points="742.8,553 737.2,556.3 742.8,559.6" stroke="#151515" stroke-width="1" fill="none" />
<polyline points="738.2,578.9 732.6,582.2 738.2,585.5" stroke="#151515" stroke-width="1" fill="none" />
<polyline points="742.8,578.9 737.2,582.2 742.8,585.5" stroke="#151515" stroke-width="1" fill="none" />
<polyline points="738.2,619.5 732.6,622.8 738.2,626.1" stroke="#151515" stroke-width="1" fill="none" />
<polyline points="742.8,619.5 737.2,622.8 742.8,626.1" stroke="#151515" stroke-width="1" fill="none" />
<polyline points="718.4,622.5 781.9,622.5" stroke="#151515" stroke-width="1" fill="none" />
<polyline points="700.5,713 700.5,596.5 781.5,596.5 781.5,604" stroke="#151515" stroke-width="1" fill="none" />
<polyline points="701,713 701,772 709.5,772" stroke="#525252" stroke-width="1" fill="none" />
<polyline points="781.5,644.4 781.5,654.5 580.5,654.5 580.5,794.9" stroke="#151515" stroke-width="1" fill="none" />
<circle cx="781.9" cy="604" r="2.5" fill="#222"/>
<circle cx="781.9" cy="622.8" r="2.5" fill="#222"/>
<circle cx="781.9" cy="644.4" r="2.5" fill="#222"/>
<circle cx="818.8" cy="604" r="2.5" fill="#222"/>
<circle cx="818.8" cy="622.8" r="2.5" fill="#222"/>
<circle cx="818.8" cy="644.4" r="2.5" fill="#222"/>
<polyline points="768.7,600.4 781.9,622.8 768.7,645.7" stroke="#151515" stroke-width="1" fill="none" />
<polyline points="805.6,600.4 818.8,622.8 805.6,645.7" stroke="#151515" stroke-width="1" fill="none" />
<polyline points="774.8,609.5 811.8,609.5" stroke="#151515" stroke-width="1" fill="none" stroke-dasharray="3.2 1.6"/>
<polyline points="774.8,635.5 811.8,635.5" stroke="#151515" stroke-width="1" fill="none" stroke-dasharray="3.2 1.6"/>
<polyline points="331.5,775.8 331.5,681.5 663.7,681.5" stroke="#151515" stroke-width="1" fill="none" />
<polyline points="663.7,681.3 699.1,671.3" stroke="#151515" stroke-width="1" fill="none" />
<circle cx="699.6" cy="671.2" r="2.2" fill="#111"/>
<path d="M669.8,676 L663.7,681.3 L670.6,683.4" stroke="#151515" stroke-width="1" fill="none" />
<path d="M674.4,674.7 L668.3,680 L675.2,682.1" stroke="#151515" stroke-width="1" fill="none" />
<circle cx="530.8" cy="665.8" r="2.4" fill="#111"/>
<polyline points="530.5,665.8 530.5,759.2" stroke="#151515" stroke-width="1" fill="none" />
<polyline points="527.2,689.5 530.8,684 534.4,689.5" stroke="#151515" stroke-width="1" fill="none" />
<polyline points="527.2,694.5 530.8,689 534.4,694.5" stroke="#151515" stroke-width="1" fill="none" />
<polyline points="527.2,739.9 530.8,745.4 534.4,739.9" stroke="#151515" stroke-width="1" fill="none" />
<polyline points="527.2,734.9 530.8,740.4 534.4,734.9" stroke="#151515" stroke-width="1" fill="none" />
<polyline points="434.3,743.9 437.9,749.4 441.5,743.9" stroke="#151515" stroke-width="1" fill="none" />
<polyline points="434.3,738.9 437.9,744.4 441.5,738.9" stroke="#151515" stroke-width="1" fill="none" />
<circle cx="422.3" cy="798.5" r="33" stroke="#151515" stroke-width="1" fill="none"/>
<polyline points="437.5,758 437.5,775.7" stroke="#151515" stroke-width="1" fill="none" />
<ellipse cx="436.5" cy="783.6" rx="4.6" ry="2.7" stroke="#151515" stroke-width="0.95" fill="none"/>
<ellipse cx="436.5" cy="790.9" rx="4.6" ry="2.7" stroke="#151515" stroke-width="0.95" fill="none"/>
<ellipse cx="436.5" cy="798.4" rx="4.6" ry="2.7" stroke="#151515" stroke-width="0.95" fill="none"/>
<ellipse cx="436.5" cy="805.8" rx="4.6" ry="2.7" stroke="#151515" stroke-width="0.95" fill="none"/>
<ellipse cx="436.5" cy="813.1" rx="4.6" ry="2.7" stroke="#151515" stroke-width="0.95" fill="none"/>
<path d="M438.4,775.7 Q431.3,775.7 431.3,780.28 Q429.8,783.6 431.3,787.29 Q429.8,790.9 431.3,794.59 Q429.8,798.4 431.3,802.09 Q429.8,805.8 431.3,809.49 Q429.8,813.1 431.3,816.79 Q431.3,821 438.4,821" stroke="#151515" stroke-width="0.95" fill="none" />
<polyline points="437.5,821 437.5,841.8" stroke="#151515" stroke-width="1" fill="none" />
<polyline points="433.8,841.5 442,841.5" stroke="#151515" stroke-width="1" fill="none" />
<polyline points="435.3,845.5 440.5,845.5" stroke="#151515" stroke-width="1" fill="none" />
<polyline points="436.6,848.5 439.2,848.5" stroke="#151515" stroke-width="1" fill="none" />
<polyline points="486.4,759.2 486.4,745.6 514.4,745.6" stroke="#151515" stroke-width="1.3" fill="none" />
<polyline points="514.4,745.6 528.6,760.2" stroke="#151515" stroke-width="1" fill="none" />
<circle cx="486.5" cy="762.6" r="3.3" stroke="#111" stroke-width="1.9" fill="#fff"/>
<circle cx="531" cy="762.4" r="3.3" stroke="#111" stroke-width="1.9" fill="#fff"/>
<polyline points="486.5,765.8 486.5,776.4" stroke="#151515" stroke-width="1" fill="none" />
<polyline points="481.4,776.5 491.8,776.5" stroke="#666" stroke-width="1" fill="none" />
<polyline points="482.8,779.6 490.4,779.6" stroke="#111" stroke-width="1.5" fill="none" />
<polyline points="481.4,782.3 491.8,782.3" stroke="#444" stroke-width="1" fill="none" />
<polyline points="483.4,784.6 489.8,784.6" stroke="#444" stroke-width="1" fill="none" />
<polyline points="486.5,786 486.5,814.5" stroke="#222" stroke-width="1" fill="none" stroke-dasharray="5.4 1.7 1.5 1.7"/>
<polyline points="481.4,815.5 491.8,815.5" stroke="#444" stroke-width="1" fill="none" />
<polyline points="484,818.5 489.2,818.5" stroke="#111" stroke-width="1.5" fill="none" />
<polyline points="486.5,818.5 486.5,841.8" stroke="#151515" stroke-width="1" fill="none" />
<polyline points="482.4,841.5 490.6,841.5" stroke="#151515" stroke-width="1" fill="none" />
<polyline points="483.9,845.5 489.1,845.5" stroke="#151515" stroke-width="1" fill="none" />
<polyline points="485.2,848.5 487.8,848.5" stroke="#151515" stroke-width="1" fill="none" />
<polyline points="534.3,762.5 541.6,762.5" stroke="#151515" stroke-width="1" fill="none" />
<path d="M541.2,762.4 L541.2,779.5 Q541.2,783.1 545,783.1 L566,783.1" stroke="#666" stroke-width="1.1" fill="none" />
<polyline points="531.5,765.7 531.5,773.2" stroke="#151515" stroke-width="1" fill="none" />
<circle cx="531" cy="774.4" r="0.9" fill="#151515"/>
<polyline points="535.2,773 535.2,782.6" stroke="#555" stroke-width="1.4" fill="none" />
<polyline points="535.2,777.5 568.4,777.5" stroke="#151515" stroke-width="1" fill="none" />
<ellipse cx="549" cy="778" rx="3.1" ry="4.4" stroke="#333" stroke-width="0.9" fill="none"/>
<ellipse cx="555.9" cy="778" rx="3.1" ry="4.4" stroke="#333" stroke-width="0.9" fill="none"/>
<ellipse cx="562.8" cy="778" rx="3.1" ry="4.4" stroke="#333" stroke-width="0.9" fill="none"/>
<circle cx="531" cy="781.8" r="1.1" fill="#151515"/>
<polyline points="531.5,783.6 531.5,789.6" stroke="#151515" stroke-width="1" fill="none" />
<path d="M528.2,791.8 L528.8,789.6 L533.2,789.6 L533.8,791.8" stroke="#555" stroke-width="0.9" fill="none" />
<circle cx="531" cy="799.7" r="8.3" stroke="#444" stroke-width="1" fill="#fff"/>
<path d="M528.2,807.8 L528.8,810 L533.2,810 L533.8,807.8" stroke="#555" stroke-width="0.9" fill="none" />
<polyline points="531.5,810 531.5,843.2" stroke="#151515" stroke-width="1" fill="none" />
<path d="M527.2,843.4 L535,843.4 L531.1,849.4 Z" stroke="#9a9a9a" stroke-width="0.5" fill="#a8a8a8" />
<polyline points="566.5,783.1 566.5,794.5 580.7,794.5" stroke="#151515" stroke-width="1" fill="none" />
<polyline points="576.1,703.5 588.5,703.5 588.5,724.5 576.5,724.5 576.5,703.5 588.1,703.5" stroke="#151515" stroke-width="1" fill="none" />
<path d="M582.6,707 l-1.8,2 l3,2.2 l-3,2.2 l3,2.2 l-3,2.2 l1.8,2" stroke="#151515" stroke-width="0.9" fill="none" />
<polyline points="590.3,739.3 593.9,744.8 597.5,739.3" stroke="#151515" stroke-width="1" fill="none" />
<polyline points="590.3,734.3 593.9,739.8 597.5,734.3" stroke="#151515" stroke-width="1" fill="none" />
<polyline points="605.5,744.7 609.1,739.2 612.7,744.7" stroke="#151515" stroke-width="1" fill="none" />
<polyline points="605.5,749.7 609.1,744.2 612.7,749.7" stroke="#151515" stroke-width="1" fill="none" />
<polyline points="626.2,771.5 642.3,771.5" stroke="#151515" stroke-width="1" fill="none" />
<polyline points="634.5,771 634.5,826.6" stroke="#151515" stroke-width="1" fill="none" />
<ellipse cx="634" cy="782.8" rx="4.5" ry="2.8" stroke="#333" stroke-width="0.95" fill="none"/>
<ellipse cx="634" cy="790.8" rx="4.5" ry="2.8" stroke="#333" stroke-width="0.95" fill="none"/>
<ellipse cx="634" cy="798.7" rx="4.5" ry="2.8" stroke="#333" stroke-width="0.95" fill="none"/>
<ellipse cx="634" cy="806" rx="4.5" ry="2.8" stroke="#333" stroke-width="0.95" fill="none"/>
<ellipse cx="634" cy="813.4" rx="4.5" ry="2.8" stroke="#333" stroke-width="0.95" fill="none"/>
<path d="M633,776 Q639.1,776 639.1,779.36 Q640.6,782.8 639.1,786.62 Q640.6,790.8 639.1,794.62 Q640.6,798.7 639.1,802.53 Q640.6,806 639.1,809.83 Q640.6,813.4 639.1,817.23 Q639.1,820.2 633,820.2" stroke="#333" stroke-width="0.95" fill="none" />
<rect x="326.4" y="766" width="12" height="3.4" fill="#fff"/>
<polyline points="328.8,768.8 332,764.2 335.2,768.8" stroke="#151515" stroke-width="1" fill="none" />
<polyline points="328.8,773 332,768.4 335.2,773" stroke="#151515" stroke-width="1" fill="none" />
<circle cx="332" cy="776.4" r="1.3" fill="#151515"/>
<polyline points="253,842.3 253,776 292.5,776" stroke="#525252" stroke-width="1" fill="none" />
<polyline points="317.5,776 352,776 352,786" stroke="#525252" stroke-width="1" fill="none" />
<polyline points="352,815.3 352,828.2" stroke="#525252" stroke-width="1" fill="none" />
<polyline points="352.3,828.5 291.5,828.5 291.5,819.5" stroke="#151515" stroke-width="1" fill="none" />
<polyline points="318.5,819.5 318.5,828.2" stroke="#151515" stroke-width="1" fill="none" />
<polyline points="343.9,786 360,786 360,815 344,815 344,786 360.4,786" stroke="#525252" stroke-width="1" fill="none" />
<ellipse cx="291.3" cy="783.9" rx="4.9" ry="2.8" stroke="#151515" stroke-width="0.95" fill="none"/>
<ellipse cx="291.3" cy="791.2" rx="4.9" ry="2.8" stroke="#151515" stroke-width="0.95" fill="none"/>
<ellipse cx="291.3" cy="798.7" rx="4.9" ry="2.8" stroke="#151515" stroke-width="0.95" fill="none"/>
<ellipse cx="291.3" cy="806" rx="4.9" ry="2.8" stroke="#151515" stroke-width="0.95" fill="none"/>
<ellipse cx="291.3" cy="813.2" rx="4.9" ry="2.8" stroke="#151515" stroke-width="0.95" fill="none"/>
<path d="M292,776.4 Q296.8,776.4 296.8,780.6 Q298.3,783.9 296.8,787.56 Q298.3,791.2 296.8,794.86 Q298.3,798.7 296.8,802.36 Q298.3,806 296.8,809.66 Q298.3,813.2 296.8,816.86 Q296.8,819.5 291.3,819.5" stroke="#151515" stroke-width="0.95" fill="none" />
<ellipse cx="318.5" cy="783.9" rx="4.9" ry="2.8" stroke="#151515" stroke-width="0.95" fill="none"/>
<ellipse cx="318.5" cy="791.2" rx="4.9" ry="2.8" stroke="#151515" stroke-width="0.95" fill="none"/>
<ellipse cx="318.5" cy="798.7" rx="4.9" ry="2.8" stroke="#151515" stroke-width="0.95" fill="none"/>
<ellipse cx="318.5" cy="806" rx="4.9" ry="2.8" stroke="#151515" stroke-width="0.95" fill="none"/>
<ellipse cx="318.5" cy="813.2" rx="4.9" ry="2.8" stroke="#151515" stroke-width="0.95" fill="none"/>
<path d="M318,776.4 Q313,776.4 313,780.6 Q311.5,783.9 313,787.56 Q311.5,791.2 313,794.86 Q311.5,798.7 313,802.36 Q311.5,806 313,809.66 Q311.5,813.2 313,816.86 Q313,819.5 318.5,819.5" stroke="#151515" stroke-width="0.95" fill="none" />
<polyline points="301.9,774 301.9,823.3" stroke="#222" stroke-width="1.3" fill="none" />
<polyline points="307.3,774 307.3,823.3" stroke="#222" stroke-width="1.3" fill="none" />
<polyline points="304.5,828.2 304.5,842.3" stroke="#151515" stroke-width="1" fill="none" />
<polyline points="300.6,842.5 308.8,842.5" stroke="#151515" stroke-width="1" fill="none" />
<polyline points="302.1,845.5 307.3,845.5" stroke="#151515" stroke-width="1" fill="none" />
<polyline points="303.4,848.5 306,848.5" stroke="#151515" stroke-width="1" fill="none" />
<polyline points="241.8,800 265,800 265,824 242,824 242,800 264.6,800" stroke="#525252" stroke-width="1" fill="none" />
<polyline points="241.4,824.5 265,824.5" stroke="#151515" stroke-width="1" fill="none" />
<polyline points="246.3,817 261,817" stroke="#111" stroke-width="1.5" fill="none" />
<polyline points="249,809.2 253.3,817 257.6,809.2" stroke="#151515" stroke-width="1" fill="none" />
<polyline points="249.2,842 257.4,842" stroke="#525252" stroke-width="1" fill="none" />
<polyline points="250.7,846 255.9,846" stroke="#525252" stroke-width="1" fill="none" />
<polyline points="252,849 254.6,849" stroke="#525252" stroke-width="1" fill="none" />
<polyline points="709.5,762.5 732.5,762.5 732.5,810.5 709.5,810.5 709.5,762.5 732.2,762.5" stroke="#151515" stroke-width="1" fill="none" />
<polyline points="732.2,772.5 739.5,772.5 739.5,745.5 769.5,745.5 769.5,784.6" stroke="#151515" stroke-width="1" fill="none" />
<polyline points="753.5,741.7 748,745.1 753.5,748.5" stroke="#151515" stroke-width="1" fill="none" />
<polyline points="758.7,741.7 753.2,745.1 758.7,748.5" stroke="#151515" stroke-width="1" fill="none" />
<polyline points="721,810.2 721,841" stroke="#525252" stroke-width="1" fill="none" />
<circle cx="720.9" cy="844.2" r="3.2" stroke="#222" stroke-width="1.6" fill="#fff"/>
<polyline points="716.4,849 725.4,849" stroke="#525252" stroke-width="1" fill="none" />
<polyline points="718.15,852 723.65,852" stroke="#525252" stroke-width="1" fill="none" />
<polyline points="719.6,854 722.2,854" stroke="#525252" stroke-width="1" fill="none" />
<path d="M769.1,784.6 L766.2,787 L766.2,795.2" stroke="#151515" stroke-width="1" fill="none" />
<path d="M772.2,788 L772.2,796 C772.2,798 770.4,798.6 769.1,799" stroke="#151515" stroke-width="1" fill="none" />
<polyline points="769.5,799 769.5,842" stroke="#151515" stroke-width="1" fill="none" />
<polyline points="765.1,842.5 773.1,842.5" stroke="#151515" stroke-width="1" fill="none" />
<polyline points="766.6,844.5 771.6,844.5" stroke="#151515" stroke-width="1" fill="none" />
<polyline points="767.9,847.5 770.3,847.5" stroke="#151515" stroke-width="1" fill="none" />
<polyline points="11.3,713.4 11.3,784.6" stroke="#222" stroke-width="1.1" fill="none" />
<polyline points="34,713.4 34,784.6" stroke="#222" stroke-width="1.1" fill="none" />
<polyline points="57.3,713.4 57.3,784.6" stroke="#222" stroke-width="1.1" fill="none" />
<polyline points="81.2,713.4 81.2,784.6" stroke="#222" stroke-width="1.1" fill="none" />
<polyline points="104.9,713.4 104.9,784.6" stroke="#222" stroke-width="1.1" fill="none" />
<polyline points="128.3,713.4 128.3,784.6" stroke="#222" stroke-width="1.1" fill="none" />
<polyline points="151.4,713.4 151.4,784.6" stroke="#222" stroke-width="1.1" fill="none" />
<polyline points="174.8,713.4 174.8,784.6" stroke="#222" stroke-width="1.1" fill="none" />
<polyline points="11.3,713.4 174.8,713.4" stroke="#222" stroke-width="1.1" fill="none" />
<polyline points="11.3,731.2 174.8,731.2" stroke="#222" stroke-width="1.1" fill="none" />
<polyline points="11.3,749.1 174.8,749.1" stroke="#222" stroke-width="1.1" fill="none" />
<polyline points="11.3,766.7 174.8,766.7" stroke="#222" stroke-width="1.1" fill="none" />
<polyline points="11.3,784.6 174.8,784.6" stroke="#222" stroke-width="1.1" fill="none" />
<text x="43.45" y="727.6" font-size="10.4" fill="#222" text-anchor="middle" font-weight="normal"  stroke="#222" stroke-width="0.22">1</text>
<text x="68.65" y="727.6" font-size="10.4" fill="#222" text-anchor="middle" font-weight="normal"  stroke="#222" stroke-width="0.22">2</text>
<text x="92.45" y="727.6" font-size="10.4" fill="#222" text-anchor="middle" font-weight="normal"  stroke="#222" stroke-width="0.22">3</text>
<text x="116" y="727.6" font-size="10.4" fill="#222" text-anchor="middle" font-weight="normal"  stroke="#222" stroke-width="0.22">4</text>
<text x="139.25" y="727.6" font-size="10.4" fill="#222" text-anchor="middle" font-weight="normal"  stroke="#222" stroke-width="0.22">5</text>
<text x="162.5" y="727.6" font-size="10.4" fill="#222" text-anchor="middle" font-weight="normal"  stroke="#222" stroke-width="0.22">6</text>
<text x="13" y="745.3" font-size="10" fill="#222" text-anchor="start" font-weight="normal"  stroke="#222" stroke-width="0.22">OFF</text>
<text x="15" y="762.8" font-size="10" fill="#222" text-anchor="start" font-weight="normal"  stroke="#222" stroke-width="0.22">ON</text>
<text x="16" y="780.2" font-size="10" fill="#222" text-anchor="start" font-weight="normal"  stroke="#222" stroke-width="0.22">ST</text>
<polyline points="70.4,740.6 93,740.6" stroke="#222" stroke-width="1" fill="none" />
<circle cx="70.4" cy="740.6" r="2.4" stroke="#222" stroke-width="1" fill="#fff"/>
<circle cx="93" cy="740.6" r="2.4" stroke="#222" stroke-width="1" fill="#fff"/>
<polyline points="139,740.6 162.2,740.6" stroke="#222" stroke-width="1" fill="none" />
<circle cx="139" cy="740.6" r="2.4" stroke="#222" stroke-width="1" fill="#fff"/>
<circle cx="162.2" cy="740.6" r="2.4" stroke="#222" stroke-width="1" fill="#fff"/>
<polyline points="44.8,776.4 68,776.4" stroke="#222" stroke-width="1" fill="none" />
<circle cx="44.8" cy="776.4" r="2.4" stroke="#222" stroke-width="1" fill="#fff"/>
<circle cx="68" cy="776.4" r="2.4" stroke="#222" stroke-width="1" fill="#fff"/>
<polyline points="116.4,775.2 140,775.2" stroke="#222" stroke-width="1" fill="none" />
<circle cx="116.4" cy="775.2" r="2.4" stroke="#222" stroke-width="1" fill="#fff"/>
<circle cx="140" cy="775.2" r="2.4" stroke="#222" stroke-width="1" fill="#fff"/>
<polyline points="9.6,804.7 9.6,875" stroke="#222" stroke-width="1.1" fill="none" />
<polyline points="31.4,804.7 31.4,875" stroke="#222" stroke-width="1.1" fill="none" />
<polyline points="78.7,804.7 78.7,875" stroke="#222" stroke-width="1.1" fill="none" />
<polyline points="102.6,804.7 102.6,875" stroke="#222" stroke-width="1.1" fill="none" />
<polyline points="186.6,804.7 186.6,875" stroke="#222" stroke-width="1.1" fill="none" />
<polyline points="9.6,804.7 186.6,804.7" stroke="#222" stroke-width="1.1" fill="none" />
<polyline points="9.6,816.3 186.6,816.3" stroke="#222" stroke-width="1.1" fill="none" />
<polyline points="9.6,828 186.6,828" stroke="#222" stroke-width="1.1" fill="none" />
<polyline points="9.6,839.9 186.6,839.9" stroke="#222" stroke-width="1.1" fill="none" />
<polyline points="9.6,851.8 186.6,851.8" stroke="#222" stroke-width="1.1" fill="none" />
<polyline points="9.6,863.6 186.6,863.6" stroke="#222" stroke-width="1.1" fill="none" />
<polyline points="9.6,875 186.6,875" stroke="#222" stroke-width="1.1" fill="none" />
<text x="20.5" y="814.9" font-size="10.3" fill="#222" text-anchor="middle" font-weight="normal"  stroke="#222" stroke-width="0.22">B</text>
<text x="39" y="814.9" font-size="10.3" fill="#222" text-anchor="start" font-weight="normal"  stroke="#222" stroke-width="0.22">BLACK</text>
<text x="86.3" y="814.9" font-size="10.3" fill="#222" text-anchor="start" font-weight="normal"  stroke="#222" stroke-width="0.22">Br</text>
<text x="109.5" y="814.9" font-size="10.25" fill="#222" text-anchor="start" font-weight="normal" xml:space="preserve" stroke="#222" stroke-width="0.22">BROWN</text>
<text x="20.5" y="826.5" font-size="10.3" fill="#222" text-anchor="middle" font-weight="normal"  stroke="#222" stroke-width="0.22">Y</text>
<text x="35.2" y="826.5" font-size="10.3" fill="#222" text-anchor="start" font-weight="normal"  stroke="#222" stroke-width="0.22">YELLOW</text>
<text x="81.2" y="826.5" font-size="10.3" fill="#222" text-anchor="start" font-weight="normal"  stroke="#222" stroke-width="0.22">B/W</text>
<text x="103" y="826.5" font-size="10.25" fill="#222" text-anchor="start" font-weight="normal" xml:space="preserve" stroke="#222" stroke-width="0.22">BLACK  WHITE</text>
<text x="20.5" y="838.2" font-size="10.3" fill="#222" text-anchor="middle" font-weight="normal"  stroke="#222" stroke-width="0.22">L</text>
<text x="37" y="838.2" font-size="10.3" fill="#222" text-anchor="start" font-weight="normal"  stroke="#222" stroke-width="0.22">BLUE</text>
<text x="81.2" y="838.2" font-size="10.3" fill="#222" text-anchor="start" font-weight="normal"  stroke="#222" stroke-width="0.22">W/G</text>
<text x="103.4" y="838.2" font-size="10.25" fill="#222" text-anchor="start" font-weight="normal" xml:space="preserve" stroke="#222" stroke-width="0.22">WHITE GREEN</text>
<text x="20.5" y="850.1" font-size="10.3" fill="#222" text-anchor="middle" font-weight="normal"  stroke="#222" stroke-width="0.22">G</text>
<text x="36.5" y="850.1" font-size="10.3" fill="#222" text-anchor="start" font-weight="normal"  stroke="#222" stroke-width="0.22">GREEN</text>
<text x="82.2" y="850.1" font-size="10.3" fill="#222" text-anchor="start" font-weight="normal"  stroke="#222" stroke-width="0.22">G/Y</text>
<text x="103.6" y="850.1" font-size="10.25" fill="#222" text-anchor="start" font-weight="normal" xml:space="preserve" stroke="#222" stroke-width="0.22">GREEN YELLOW</text>
<text x="20.5" y="862" font-size="10.3" fill="#222" text-anchor="middle" font-weight="normal"  stroke="#222" stroke-width="0.22">R</text>
<text x="38.5" y="862" font-size="10.3" fill="#222" text-anchor="start" font-weight="normal"  stroke="#222" stroke-width="0.22">RED</text>
<text x="82.2" y="862" font-size="10.3" fill="#222" text-anchor="start" font-weight="normal"  stroke="#222" stroke-width="0.22">W/L</text>
<text x="108" y="862" font-size="10.25" fill="#222" text-anchor="start" font-weight="normal" xml:space="preserve" stroke="#222" stroke-width="0.22">WHITE BLUE</text>
<text x="20.5" y="873.8" font-size="10.3" fill="#222" text-anchor="middle" font-weight="normal"  stroke="#222" stroke-width="0.22">W</text>
<text x="37.2" y="873.8" font-size="10.3" fill="#222" text-anchor="start" font-weight="normal"  stroke="#222" stroke-width="0.22">WHITE</text>
<text x="86.3" y="873.8" font-size="10.3" fill="#222" text-anchor="start" font-weight="normal"  stroke="#222" stroke-width="0.22">In</text>
<text x="107.4" y="873.8" font-size="10.25" fill="#222" text-anchor="start" font-weight="normal" xml:space="preserve" stroke="#222" stroke-width="0.22">INDIGO</text>
<text x="172.4" y="134.2" font-size="10" fill="#2a2a2a" text-anchor="start" font-weight="normal"  stroke="#2a2a2a" stroke-width="0.22">Br</text>
<text x="264.4" y="136.4" font-size="10" fill="#2a2a2a" text-anchor="start" font-weight="normal"  stroke="#2a2a2a" stroke-width="0.22">Br</text>
<text x="110" y="167.6" font-size="9.8" fill="#2a2a2a" text-anchor="start" font-weight="normal"  textLength="22.5" lengthAdjust="spacingAndGlyphs" stroke="#2a2a2a" stroke-width="0.22">MW2</text>
<text x="185.8" y="171" font-size="10" fill="#2a2a2a" text-anchor="start" font-weight="normal"  stroke="#2a2a2a" stroke-width="0.22">W</text>
<text x="186.8" y="185.6" font-size="10" fill="#2a2a2a" text-anchor="start" font-weight="normal"  stroke="#2a2a2a" stroke-width="0.22">R</text>
<text x="181.6" y="233.6" font-size="12.4" fill="#2a2a2a" text-anchor="start" font-weight="normal"  textLength="28.4" lengthAdjust="spacingAndGlyphs" stroke="#2a2a2a" stroke-width="0.22">MW1</text>
<text x="193" y="298" font-size="10" fill="#2a2a2a" text-anchor="start" font-weight="normal"  stroke="#2a2a2a" stroke-width="0.22">L</text>
<text x="54" y="341.4" font-size="12.4" fill="#2a2a2a" text-anchor="start" font-weight="normal"  textLength="20" lengthAdjust="spacingAndGlyphs" stroke="#2a2a2a" stroke-width="0.22">FW</text>
<text x="113" y="423.2" font-size="12.4" fill="#2a2a2a" text-anchor="start" font-weight="normal"  textLength="29" lengthAdjust="spacingAndGlyphs" stroke="#2a2a2a" stroke-width="0.22">EXW</text>
<text x="111" y="560.3" font-size="12.8" fill="#2a2a2a" text-anchor="start" font-weight="normal"  textLength="30.9" lengthAdjust="spacingAndGlyphs" stroke="#2a2a2a" stroke-width="0.22">DCW</text>
<text x="190.6" y="358.5" font-size="16" fill="#111" text-anchor="start" font-weight="normal" >Y</text>
<text x="222" y="358.5" font-size="16" fill="#111" text-anchor="start" font-weight="normal" >Y</text>
<text x="222" y="374.2" font-size="16" fill="#111" text-anchor="start" font-weight="normal" >Y</text>
<text x="190" y="374" font-size="12" fill="#2a2a2a" text-anchor="start" font-weight="normal"  stroke="#2a2a2a" stroke-width="0.22">W</text>
<text x="190.8" y="388.4" font-size="12" fill="#6c6c6c" text-anchor="start" font-weight="normal"  stroke="#6c6c6c" stroke-width="0.22">L</text>
<text x="224.1" y="388.4" font-size="12" fill="#6c6c6c" text-anchor="start" font-weight="normal"  stroke="#6c6c6c" stroke-width="0.22">L</text>
<text x="190.8" y="401" font-size="12" fill="#6c6c6c" text-anchor="start" font-weight="normal"  stroke="#6c6c6c" stroke-width="0.22">L</text>
<text x="224.1" y="401" font-size="12" fill="#6c6c6c" text-anchor="start" font-weight="normal"  stroke="#6c6c6c" stroke-width="0.22">L</text>
<text x="190.4" y="425" font-size="12" fill="#2a2a2a" text-anchor="start" font-weight="normal"  stroke="#2a2a2a" stroke-width="0.22">R</text>
<text x="204.6" y="426.9" font-size="18.5" fill="#111" text-anchor="start" font-weight="bold" >+</text>
<text x="185.4" y="495.6" font-size="12" fill="#2a2a2a" text-anchor="start" font-weight="normal"  stroke="#2a2a2a" stroke-width="0.22">W</text>
<text x="241.8" y="402.4" font-size="22.2" fill="#111" text-anchor="start" font-weight="normal"  textLength="44.8" lengthAdjust="spacingAndGlyphs">AVR</text>
<text x="280.3" y="507.6" font-size="12.9" fill="#2a2a2a" text-anchor="start" font-weight="normal"  textLength="63.9" lengthAdjust="spacingAndGlyphs" stroke="#2a2a2a" stroke-width="0.22">DC DIODE</text>
<text x="279.4" y="525.6" font-size="11" fill="#2a2a2a" text-anchor="start" font-weight="normal"  stroke="#2a2a2a" stroke-width="0.22">G</text>
<text x="279.4" y="589.6" font-size="11" fill="#2a2a2a" text-anchor="start" font-weight="normal"  stroke="#2a2a2a" stroke-width="0.22">G</text>
<text x="260.6" y="620.8" font-size="12.6" fill="#2a2a2a" text-anchor="start" font-weight="normal"  stroke="#2a2a2a" stroke-width="0.22">Br</text>
<text x="259.6" y="643" font-size="12.6" fill="#2a2a2a" text-anchor="start" font-weight="normal"  stroke="#2a2a2a" stroke-width="0.22">Br</text>
<text x="29.7" y="685.3" font-size="13.3" fill="#2a2a2a" text-anchor="start" font-weight="normal"  textLength="131.9" lengthAdjust="spacingAndGlyphs" stroke="#2a2a2a" stroke-width="0.22">GENERATOR BLOCK</text>
<text x="42.4" y="707.8" font-size="10.4" fill="#2a2a2a" text-anchor="start" font-weight="normal"  textLength="114.6" lengthAdjust="spacingAndGlyphs" stroke="#2a2a2a" stroke-width="0.22">COMBINATION SWITCH</text>
<text x="232.7" y="727" font-size="10" fill="#2a2a2a" text-anchor="start" font-weight="normal"  textLength="76.7" lengthAdjust="spacingAndGlyphs" stroke="#2a2a2a" stroke-width="0.22">ENGINE BLOCK</text>
<text x="361.4" y="213.2" font-size="10" fill="#2a2a2a" text-anchor="start" font-weight="normal"  stroke="#2a2a2a" stroke-width="0.22">Br</text>
<text x="406.4" y="250.4" font-size="35" fill="#111" text-anchor="start" font-weight="normal" >V</text>
<text x="410.2" y="274" font-size="32" fill="#111" text-anchor="start" font-weight="bold" >~</text>
<text x="358.1" y="292.4" font-size="13.5" fill="#2a2a2a" text-anchor="start" font-weight="normal"  textLength="84.3" lengthAdjust="spacingAndGlyphs" stroke="#2a2a2a" stroke-width="0.22">VOLT METER</text>
<text x="464.4" y="286.2" font-size="10" fill="#2a2a2a" text-anchor="start" font-weight="normal"  stroke="#2a2a2a" stroke-width="0.22">L</text>
<text x="516.3" y="162.2" font-size="13.2" fill="#2a2a2a" text-anchor="start" font-weight="normal"  textLength="120.3" lengthAdjust="spacingAndGlyphs" stroke="#2a2a2a" stroke-width="0.22">CIRCUIT BREAKER</text>
<text x="525.8" y="185.6" font-size="10" fill="#2a2a2a" text-anchor="start" font-weight="normal"  stroke="#2a2a2a" stroke-width="0.22">Br</text>
<text x="620.2" y="295.4" font-size="10" fill="#111" text-anchor="start" font-weight="normal"  stroke="#111" stroke-width="0.22">L</text>
<text x="620.6" y="323.8" font-size="12" fill="#2a2a2a" text-anchor="start" font-weight="normal"  stroke="#2a2a2a" stroke-width="0.22">G/Y</text>
<text x="731.4" y="323.8" font-size="12" fill="#2a2a2a" text-anchor="start" font-weight="normal"  stroke="#2a2a2a" stroke-width="0.22">G/Y</text>
<text x="823.2" y="322.8" font-size="12" fill="#2a2a2a" text-anchor="start" font-weight="normal"  stroke="#2a2a2a" stroke-width="0.22">G/Y</text>
<text x="812" y="177.8" font-size="13" fill="#2a2a2a" text-anchor="start" font-weight="normal"  stroke="#2a2a2a" stroke-width="0.22">AC ~</text>
<text x="751.4" y="210.6" font-size="10" fill="#6c6c6c" text-anchor="start" font-weight="normal"  stroke="#6c6c6c" stroke-width="0.22">Br</text>
<text x="857.5" y="208.6" font-size="10" fill="#2a2a2a" text-anchor="start" font-weight="normal"  stroke="#2a2a2a" stroke-width="0.22">Br</text>
<text x="956.5" y="208.9" font-size="10" fill="#2a2a2a" text-anchor="start" font-weight="normal"  stroke="#2a2a2a" stroke-width="0.22">Br</text>
<text x="677.2" y="273.6" font-size="10" fill="#6c6c6c" text-anchor="start" font-weight="normal"  stroke="#6c6c6c" stroke-width="0.22">L</text>
<text x="776" y="277.6" font-size="10.4" fill="#111" text-anchor="start" font-weight="normal"  stroke="#111" stroke-width="0.22">L</text>
<text x="874" y="277.6" font-size="10.4" fill="#555" text-anchor="start" font-weight="normal"  stroke="#555" stroke-width="0.22">L</text>
<text x="714.6" y="283" font-size="12" fill="#2a2a2a" text-anchor="start" font-weight="normal"  stroke="#2a2a2a" stroke-width="0.22">G/Y</text>
<text x="910" y="290" font-size="12" fill="#2a2a2a" text-anchor="start" font-weight="normal"  stroke="#2a2a2a" stroke-width="0.22">G/Y</text>
<text x="869" y="352.8" font-size="13.2" fill="#2a2a2a" text-anchor="start" font-weight="normal"  textLength="44" lengthAdjust="spacingAndGlyphs" stroke="#2a2a2a" stroke-width="0.22">EARTH</text>
<text x="870.5" y="368.7" font-size="13.2" fill="#2a2a2a" text-anchor="start" font-weight="normal"  textLength="65.1" lengthAdjust="spacingAndGlyphs" stroke="#2a2a2a" stroke-width="0.22">TERMINAL</text>
<text x="806" y="368.4" font-size="12" fill="#2a2a2a" text-anchor="start" font-weight="normal"  stroke="#2a2a2a" stroke-width="0.22">G/Y</text>
<text x="706.7" y="358.4" font-size="10" fill="#2a2a2a" text-anchor="start" font-weight="normal"  textLength="22.7" lengthAdjust="spacingAndGlyphs" stroke="#2a2a2a" stroke-width="0.22">D.C .</text>
<text x="684.1" y="371.8" font-size="10" fill="#2a2a2a" text-anchor="start" font-weight="normal"  textLength="63.6" lengthAdjust="spacingAndGlyphs" stroke="#2a2a2a" stroke-width="0.22">PROTECTOR</text>
<text x="620.6" y="387.4" font-size="12" fill="#2a2a2a" text-anchor="start" font-weight="normal"  stroke="#2a2a2a" stroke-width="0.22">R</text>
<text x="629" y="474.8" font-size="11" fill="#2a2a2a" text-anchor="start" font-weight="normal"  stroke="#2a2a2a" stroke-width="0.22">B</text>
<text x="843.3" y="419.5" font-size="10" fill="#111" text-anchor="start" font-weight="bold"  textLength="32.1" lengthAdjust="spacingAndGlyphs" stroke="#111" stroke-width="0.22">DC12V</text>
<text x="832.6" y="436.6" font-size="15" fill="#111" text-anchor="start" font-weight="normal" >+</text>
<text x="879.2" y="433.9" font-size="10.4" fill="#111" text-anchor="start" font-weight="normal"  stroke="#111" stroke-width="0.22">—</text>
<text x="721.6" y="523.4" font-size="12.6" fill="#2a2a2a" text-anchor="start" font-weight="normal"  stroke="#2a2a2a" stroke-width="0.22">G/Y</text>
<text x="502.2" y="529.3" font-size="10" fill="#2a2a2a" text-anchor="start" font-weight="normal"  textLength="31.3" lengthAdjust="spacingAndGlyphs" stroke="#2a2a2a" stroke-width="0.22">DIODE</text>
<text x="625" y="551.6" font-size="10" fill="#2a2a2a" text-anchor="start" font-weight="normal"  stroke="#2a2a2a" stroke-width="0.22">L</text>
<text x="654.2" y="578.2" font-size="10" fill="#2a2a2a" text-anchor="start" font-weight="normal"  stroke="#2a2a2a" stroke-width="0.22">W/G</text>
<text x="565.6" y="628.6" font-size="10" fill="#2a2a2a" text-anchor="start" font-weight="normal"  stroke="#2a2a2a" stroke-width="0.22">W/G</text>
<text x="753.3" y="572.3" font-size="10" fill="#2a2a2a" text-anchor="start" font-weight="normal"  textLength="91.1" lengthAdjust="spacingAndGlyphs" stroke="#2a2a2a" stroke-width="0.22">COMBINATION SW</text>
<text x="785" y="607.5" font-size="10" fill="#2a2a2a" text-anchor="start" font-weight="normal"  stroke="#2a2a2a" stroke-width="0.22">3</text>
<text x="785" y="626.6" font-size="10" fill="#2a2a2a" text-anchor="start" font-weight="normal"  stroke="#2a2a2a" stroke-width="0.22">2</text>
<text x="785" y="647.6" font-size="10" fill="#2a2a2a" text-anchor="start" font-weight="normal"  stroke="#2a2a2a" stroke-width="0.22">1</text>
<text x="822.6" y="607.5" font-size="10" fill="#2a2a2a" text-anchor="start" font-weight="normal"  stroke="#2a2a2a" stroke-width="0.22">6</text>
<text x="822.6" y="626.6" font-size="10" fill="#2a2a2a" text-anchor="start" font-weight="normal"  stroke="#2a2a2a" stroke-width="0.22">5</text>
<text x="822.6" y="647.6" font-size="10" fill="#2a2a2a" text-anchor="start" font-weight="normal"  stroke="#2a2a2a" stroke-width="0.22">4</text>
<text x="847" y="607" font-size="10.4" fill="#2a2a2a" text-anchor="start" font-weight="normal"  stroke="#2a2a2a" stroke-width="0.22">ST</text>
<text x="846" y="626.6" font-size="10.4" fill="#2a2a2a" text-anchor="start" font-weight="normal"  stroke="#2a2a2a" stroke-width="0.22">ON</text>
<text x="844.6" y="647.8" font-size="10.4" fill="#2a2a2a" text-anchor="start" font-weight="normal"  stroke="#2a2a2a" stroke-width="0.22">OFF</text>
<text x="689.4" y="612.6" font-size="10" fill="#2a2a2a" text-anchor="start" font-weight="normal"  stroke="#2a2a2a" stroke-width="0.22">B</text>
<text x="664" y="650.2" font-size="10" fill="#2a2a2a" text-anchor="start" font-weight="normal"  stroke="#2a2a2a" stroke-width="0.22">B/W</text>
<text x="646" y="677.8" font-size="10" fill="#2a2a2a" text-anchor="start" font-weight="normal"  stroke="#2a2a2a" stroke-width="0.22">B</text>
<text x="446.4" y="663.8" font-size="10" fill="#2a2a2a" text-anchor="start" font-weight="normal"  stroke="#2a2a2a" stroke-width="0.22">W</text>
<text x="336.6" y="721.2" font-size="10" fill="#2a2a2a" text-anchor="start" font-weight="normal"  stroke="#2a2a2a" stroke-width="0.22">B</text>
<text x="444" y="719.2" font-size="10" fill="#2a2a2a" text-anchor="start" font-weight="normal"  stroke="#2a2a2a" stroke-width="0.22">Br</text>
<text x="441.4" y="757.4" font-size="10" fill="#2a2a2a" text-anchor="start" font-weight="normal"  stroke="#2a2a2a" stroke-width="0.22">Br</text>
<text x="492.6" y="743" font-size="10" fill="#2a2a2a" text-anchor="start" font-weight="normal"  stroke="#2a2a2a" stroke-width="0.22">R</text>
<text x="518.2" y="736.8" font-size="10" fill="#2a2a2a" text-anchor="start" font-weight="normal"  stroke="#2a2a2a" stroke-width="0.22">W</text>
<text x="541.6" y="767" font-size="10" fill="#2a2a2a" text-anchor="start" font-weight="normal"  stroke="#2a2a2a" stroke-width="0.22">B/W</text>
<text x="571" y="804" font-size="10" fill="#2a2a2a" text-anchor="start" font-weight="normal"  stroke="#2a2a2a" stroke-width="0.22">B</text>
<text x="488.4" y="837.4" font-size="10" fill="#2a2a2a" text-anchor="start" font-weight="normal"  stroke="#2a2a2a" stroke-width="0.22">B</text>
<text x="547" y="710.4" font-size="10" fill="#6c6c6c" text-anchor="start" font-weight="normal"  stroke="#6c6c6c" stroke-width="0.22">FUSE</text>
<text x="552.2" y="722.2" font-size="10" fill="#2a2a2a" text-anchor="start" font-weight="normal"  stroke="#2a2a2a" stroke-width="0.22">10A</text>
<text x="610" y="757" font-size="10" fill="#2a2a2a" text-anchor="start" font-weight="normal"  stroke="#2a2a2a" stroke-width="0.22">B/G</text>
<text x="594.4" y="796" font-size="10" fill="#2a2a2a" text-anchor="start" font-weight="normal"  stroke="#2a2a2a" stroke-width="0.22">B/G</text>
<text x="700.7" y="744.8" font-size="10" fill="#2a2a2a" text-anchor="start" font-weight="normal"  stroke="#2a2a2a" stroke-width="0.22">B</text>
<text x="743.5" y="767.5" font-size="10" fill="#2a2a2a" text-anchor="start" font-weight="normal"  stroke="#2a2a2a" stroke-width="0.22">Y</text>
<text x="772.4" y="754.4" font-size="10" fill="#2a2a2a" text-anchor="start" font-weight="normal"  stroke="#2a2a2a" stroke-width="0.22">Y</text>
<text x="722.1" y="716.2" font-size="10" fill="#2a2a2a" text-anchor="start" font-weight="normal"  textLength="110.7" lengthAdjust="spacingAndGlyphs" stroke="#2a2a2a" stroke-width="0.22">CONTROL BOX BLOCK</text>
<text x="525.2" y="803.8" font-size="9" fill="#555" text-anchor="start" font-weight="normal"  stroke="#555" stroke-width="0.22">M</text>
<text x="228.9" y="867.6" font-size="10" fill="#2a2a2a" text-anchor="start" font-weight="normal"  textLength="82.5" lengthAdjust="spacingAndGlyphs" stroke="#2a2a2a" stroke-width="0.22">SPARKING PLUG</text>
<text x="315.5" y="847.4" font-size="10" fill="#2a2a2a" text-anchor="start" font-weight="normal"  textLength="70.6" lengthAdjust="spacingAndGlyphs" stroke="#2a2a2a" stroke-width="0.22">IGNITION COIL</text>
<text x="388.1" y="866.8" font-size="10" fill="#2a2a2a" text-anchor="start" font-weight="normal"  textLength="69.5" lengthAdjust="spacingAndGlyphs" stroke="#2a2a2a" stroke-width="0.22">CHARGE COIL</text>
<text x="467.9" y="866.8" font-size="10" fill="#2a2a2a" text-anchor="start" font-weight="normal"  textLength="46.1" lengthAdjust="spacingAndGlyphs" stroke="#2a2a2a" stroke-width="0.22">BATTERY</text>
<text x="531.4" y="866.8" font-size="10" fill="#2a2a2a" text-anchor="start" font-weight="normal"  textLength="46.8" lengthAdjust="spacingAndGlyphs" stroke="#2a2a2a" stroke-width="0.22">STARTER</text>
<text x="601.5" y="855" font-size="10" fill="#2a2a2a" text-anchor="start" font-weight="normal"  textLength="48.4" lengthAdjust="spacingAndGlyphs" stroke="#2a2a2a" stroke-width="0.22">FUEL CUT</text>
<text x="601.5" y="866.8" font-size="10" fill="#2a2a2a" text-anchor="start" font-weight="normal"  textLength="50.3" lengthAdjust="spacingAndGlyphs" stroke="#2a2a2a" stroke-width="0.22">SOLENOIL</text>
<text x="702.5" y="866.4" font-size="10" fill="#2a2a2a" text-anchor="start" font-weight="normal"  textLength="59.8" lengthAdjust="spacingAndGlyphs" stroke="#2a2a2a" stroke-width="0.22">TRANSITION</text>
<text x="767.9" y="856" font-size="10" fill="#2a2a2a" text-anchor="start" font-weight="normal"  textLength="49.8" lengthAdjust="spacingAndGlyphs" stroke="#2a2a2a" stroke-width="0.22">OIL LEVEL</text>
<text x="783" y="867.8" font-size="10" fill="#2a2a2a" text-anchor="start" font-weight="normal"  stroke="#2a2a2a" stroke-width="0.22">SW</text>
</svg>
</body></html>
